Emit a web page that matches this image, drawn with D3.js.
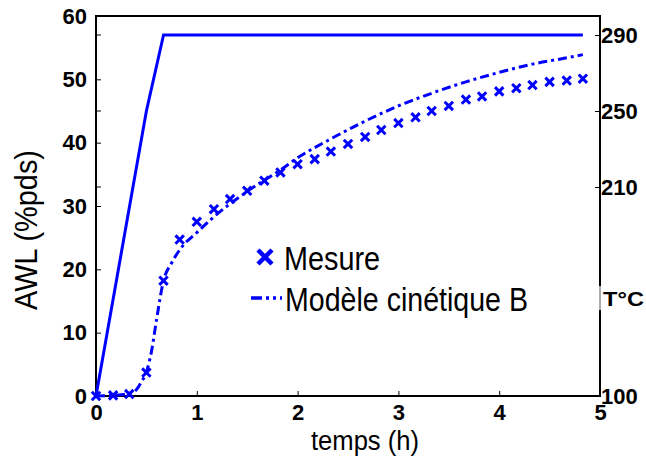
<!DOCTYPE html>
<html><head><meta charset="utf-8">
<script src="https://cdn.jsdelivr.net/npm/d3@7"></script>
<style>body{margin:0;background:#fff}svg{display:block}</style>
</head><body>
<svg id="c" width="646" height="457"></svg>
<script>
// ---- data ----
const measureT = [0, 0.17, 0.33, 0.5, 0.67, 0.83, 1.0, 1.17, 1.33, 1.5, 1.67, 1.83, 2.0, 2.17, 2.33, 2.5, 2.67, 2.83, 3.0, 3.17, 3.33, 3.5, 3.67, 3.83, 4.0, 4.17, 4.33, 4.5, 4.67, 4.83];
const measureAWL = [0, 0.1, 0.3, 3.7, 18.2, 24.7, 27.5, 29.5, 31.1, 32.4, 34.0, 35.3, 36.6, 37.4, 38.6, 39.8, 40.9, 42.0, 43.1, 44.0, 45.0, 45.8, 46.8, 47.3, 48.1, 48.6, 49.1, 49.6, 49.8, 50.1];
const modelT = [0, 0.17, 0.33, 0.4, 0.45, 0.5, 0.55, 0.6, 0.67, 0.75, 0.85, 1.0, 1.17, 1.5, 1.83, 2.0, 2.33, 2.67, 3.0, 3.33, 3.67, 4.0, 4.33, 4.67, 4.83];
const modelAWL = [0, 0.1, 0.4, 1.0, 2.2, 3.8, 7, 12, 18.2, 21, 23.5, 25.8, 28.3, 32.3, 35.7, 37.6, 40.6, 43.4, 45.8, 47.8, 49.6, 51.1, 52.4, 53.4, 53.9];
const tempT = [0, 0.5, 0.67, 4.83];
const tempC = [100, 250, 290, 290];
const xTicks = [0, 1, 2, 3, 4, 5];
const yTicks = [0, 10, 20, 30, 40, 50, 60];
const rightTicks = [100, 210, 250, 290];
const rightTitleValue = 151;
const legendLabels = ["Mesure", "Modèle cinétique B"];

// ---- layout ----
const svg = d3.select("#c");
const L = 96, R = 600, T = 16, B = 396;
const x = d3.scaleLinear().domain([0, 5]).range([L, R]);
const y = d3.scaleLinear().domain([0, 60]).range([B, T]);
const yR = d3.scaleLinear().domain([100, 300]).range([B, T]);
const blue = "#0000ff";
const narrow = "'Liberation Sans Narrow','Liberation Sans',Arial,sans-serif";
const boldF = "'Liberation Sans',Arial,sans-serif";

// frame
svg.append("rect").attr("x", L).attr("y", T).attr("width", R - L).attr("height", B - T)
  .attr("fill", "none").attr("stroke", "#000").attr("stroke-width", 2);

// left axis (ticks inward)
const gL = svg.append("g").attr("transform", `translate(${L},0)`)
  .call(d3.axisLeft(y).tickValues(yTicks).tickSize(-5).tickPadding(9).tickFormat(d3.format("d")));
gL.select(".domain").remove();
gL.selectAll("text").attr("font-family", boldF).attr("font-weight", "bold").attr("font-size", 22).attr("fill", "#000");
gL.selectAll("line").attr("stroke", "#000");

// bottom axis
const gB = svg.append("g").attr("transform", `translate(0,${B})`)
  .call(d3.axisBottom(x).tickValues(xTicks).tickSize(-5).tickPadding(8).tickFormat(d3.format("d")));
gB.select(".domain").remove();
gB.selectAll("text").attr("font-family", boldF).attr("font-weight", "bold").attr("font-size", 22).attr("fill", "#000");
gB.selectAll("line").attr("stroke", "#000");

// right axis
const gR = svg.append("g").attr("transform", `translate(${R},0)`)
  .call(d3.axisRight(yR).tickValues(rightTicks).tickSize(-5).tickPadding(1).tickFormat(d3.format("d")));
gR.select(".domain").remove();
gR.selectAll("text").attr("font-family", boldF).attr("font-weight", "bold").attr("font-size", 22).attr("fill", "#000");
gR.selectAll("line").attr("stroke", "#000");
// mirrored right-axis ticks on left side
svg.append("g").selectAll("line").data(rightTicks).join("line")
  .attr("x1", L).attr("x2", L + 5).attr("y1", d => yR(d)).attr("y2", d => yR(d))
  .attr("stroke", "#000");
// gray segment on right axis near title
svg.append("line").attr("x1", R).attr("x2", R)
  .attr("y1", yR(rightTitleValue) - 13).attr("y2", yR(rightTitleValue) + 11)
  .attr("stroke", "#aaa").attr("stroke-width", 2);
svg.append("text").attr("x", R + 3).attr("y", yR(rightTitleValue)).attr("dy", "0.35em")
  .attr("font-family", boldF).attr("font-weight", "bold").attr("font-size", 21)
  .attr("textLength", 41).attr("lengthAdjust", "spacingAndGlyphs").text("T°C");

// axis titles
svg.append("text").attr("x", 365).attr("y", 450).attr("text-anchor", "middle")
  .attr("font-family", narrow).attr("font-size", 27)
  .attr("textLength", 108).attr("lengthAdjust", "spacingAndGlyphs").text("temps (h)");
svg.append("text").attr("transform", "translate(37,230) rotate(-90)").attr("text-anchor", "middle")
  .attr("font-family", narrow).attr("font-size", 31)
  .attr("textLength", 160).attr("lengthAdjust", "spacingAndGlyphs").text("AWL (%pds)");

// temperature line
svg.append("path").datum(tempT.map((t, i) => [t, tempC[i]]))
  .attr("d", d3.line().x(d => x(d[0])).y(d => yR(d[1])))
  .attr("fill", "none").attr("stroke", blue).attr("stroke-width", 3);

// model line
const dash = "9,4,3,4";
svg.append("path").datum(modelT.map((t, i) => [t, modelAWL[i]]))
  .attr("d", d3.line().x(d => x(d[0])).y(d => y(d[1])).curve(d3.curveMonotoneX))
  .attr("fill", "none").attr("stroke", blue).attr("stroke-width", 3).attr("stroke-dasharray", dash);

// measure crosses
const cross = (g, s) => g.attr("d", `M${-s},${-s}L${s},${s}M${-s},${s}L${s},${-s}`);
svg.append("g").selectAll("path").data(measureT.map((t, i) => [t, measureAWL[i]])).join("path")
  .attr("transform", d => `translate(${x(d[0])},${y(d[1])})`)
  .call(cross, 4.2)
  .attr("fill", "none").attr("stroke", blue).attr("stroke-width", 3);

// legend
const lg = svg.append("g");
lg.append("path").attr("transform", "translate(265,257)").call(cross, 7)
  .attr("fill", "none").attr("stroke", blue).attr("stroke-width", 4.5);
lg.append("line").attr("x1", 251).attr("x2", 282).attr("y1", 298).attr("y2", 298)
  .attr("stroke", blue).attr("stroke-width", 3.5).attr("stroke-dasharray", "11,4,3,4,3,4");
lg.append("text").attr("x", 284).attr("y", 270).attr("font-family", narrow).attr("font-size", 34)
  .attr("textLength", 96).attr("lengthAdjust", "spacingAndGlyphs").text(legendLabels[0]);
lg.append("text").attr("x", 285).attr("y", 311).attr("font-family", narrow).attr("font-size", 34)
  .attr("textLength", 243).attr("lengthAdjust", "spacingAndGlyphs").text(legendLabels[1]);
</script>
</body></html>
